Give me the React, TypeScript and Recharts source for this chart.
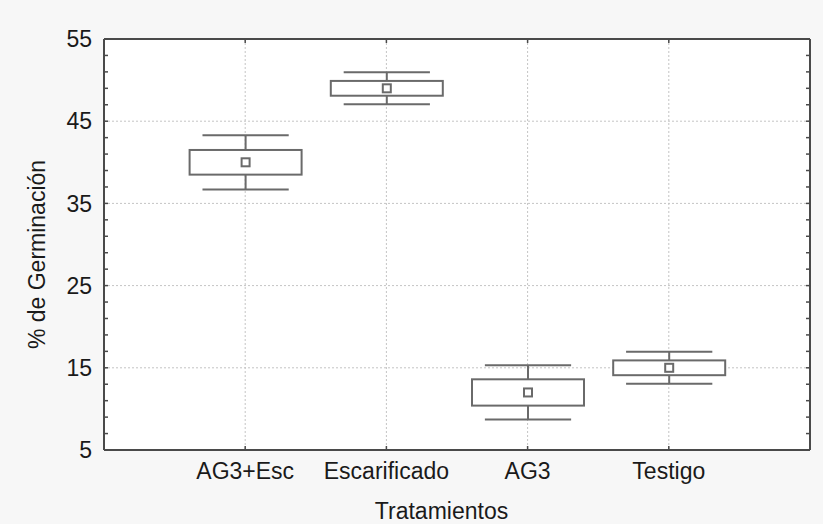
import React from 'react';
import { ComposedChart, Bar, XAxis, YAxis, CartesianGrid } from 'recharts';

// ---- data ----
const categories = ['AG3+Esc', 'Escarificado', 'AG3', 'Testigo'];
const positions = [1, 2, 3, 4];
const means = [40, 49, 12, 15];
const boxLow = [38.5, 48.1, 10.4, 14.1];
const boxHigh = [41.5, 49.9, 13.6, 15.9];
const whiskerLow = [36.7, 47.05, 8.7, 13.05];
const whiskerHigh = [43.3, 50.95, 15.3, 16.95];
const yMajorTicks = [5, 15, 25, 35, 45, 55];
const yMinorTicks = [5, 7, 9, 11, 13, 15, 17, 19, 21, 23, 25, 27, 29, 31, 33, 35, 37, 39, 41, 43, 45, 47, 49, 51, 53, 55];
const xTicks = [1, 2, 3, 4];

const data = categories.map((name, i) => ({
  name,
  x: positions[i],
  mean: means[i],
  boxLow: boxLow[i],
  boxHigh: boxHigh[i],
  whiskerLow: whiskerLow[i],
  whiskerHigh: whiskerHigh[i],
  whisker: [whiskerLow[i], whiskerHigh[i]],
}));

const FONT = '"Liberation Sans", Arial, sans-serif';
const BOX_COLOR = '#6a6a6a';
const FRAME = '#4a4a4a';

const BoxShape = (props: any) => {
  const { x, y, width, height, payload } = props;
  if (x == null || y == null || !payload) return null;
  const top = Math.min(y, y + height);
  const h = Math.abs(height);
  const hi = payload.whiskerHigh;
  const lo = payload.whiskerLow;
  const k = h / (hi - lo);
  const toY = (v: number) => top + (hi - v) * k;
  const cx = x + width / 2;
  const capHalf = width * 0.385;
  const yBoxTop = toY(payload.boxHigh);
  const yBoxBot = toY(payload.boxLow);
  const yMean = toY(payload.mean);
  const sq = 8;
  return (
    <g>
      <line x1={cx} x2={cx} y1={toY(hi)} y2={yBoxTop} stroke={BOX_COLOR} strokeWidth={2} />
      <line x1={cx} x2={cx} y1={yBoxBot} y2={toY(lo)} stroke={BOX_COLOR} strokeWidth={2} />
      <line x1={cx - capHalf} x2={cx + capHalf} y1={toY(hi)} y2={toY(hi)} stroke={BOX_COLOR} strokeWidth={2} />
      <line x1={cx - capHalf} x2={cx + capHalf} y1={toY(lo)} y2={toY(lo)} stroke={BOX_COLOR} strokeWidth={2} />
      <rect x={x} y={yBoxTop} width={width} height={yBoxBot - yBoxTop} fill="#ffffff" stroke={BOX_COLOR} strokeWidth={2} />
      <rect x={cx - sq / 2} y={yMean - sq / 2} width={sq} height={sq} fill="#ffffff" stroke={BOX_COLOR} strokeWidth={2} />
    </g>
  );
};

const tickStyle = { fill: '#1a1a1a', fontSize: 23, fontFamily: FONT };
const NoLabel = () => <g />;

export default function App() {
  return (
    <div style={{ position: 'absolute', left: 0, top: 0, width: 823, height: 524, background: '#f7f7f7' }}>
      <ComposedChart
        width={823}
        height={524}
        data={data}
        margin={{ top: 39, right: 13, left: 0, bottom: 0 }}
      >
        <CartesianGrid
          fill="#ffffff"
          stroke="#c4c4c4"
          strokeDasharray="2 2"
          strokeWidth={1}
        />
        <XAxis
          xAxisId="bm"
          dataKey="x"
          type="number"
          domain={[0, 5]}
          ticks={xTicks}
          interval={0}
          allowDataOverflow
          height={1}
          mirror
          tick={NoLabel}
          tickSize={4}
          tickLine={{ stroke: FRAME, strokeWidth: 1.5 }}
          axisLine={false}
        />
        <XAxis
          dataKey="x"
          type="number"
          domain={[0, 5]}
          ticks={xTicks}
          interval={0}
          allowDataOverflow
          height={74}
          tickLine={false}
          tickSize={0}
          tickMargin={13}
          axisLine={{ stroke: FRAME, strokeWidth: 2 }}
          tick={tickStyle}
          tickFormatter={(v: number) => categories[positions.indexOf(v)] ?? ''}
          label={{
            content: (p: any) => {
              const vb = p.viewBox;
              return (
                <text
                  x={vb.x + vb.width / 2 - 15.5}
                  y={519}
                  textAnchor="middle"
                  fill="#1a1a1a"
                  fontSize={23}
                  fontFamily={FONT}
                >
                  Tratamientos
                </text>
              );
            },
          }}
        />
        <XAxis
          xAxisId="top"
          orientation="top"
          dataKey="x"
          type="number"
          domain={[0, 5]}
          ticks={xTicks}
          interval={0}
          allowDataOverflow
          height={1}
          mirror
          tick={NoLabel}
          tickSize={4}
          tickLine={{ stroke: FRAME, strokeWidth: 1.5 }}
          axisLine={{ stroke: FRAME, strokeWidth: 2 }}
        />
        <YAxis
          yAxisId="lm"
          type="number"
          domain={[5, 55]}
          ticks={yMinorTicks}
          interval={0}
          allowDataOverflow
          width={1}
          mirror
          tick={NoLabel}
          tickSize={4}
          tickLine={{ stroke: FRAME, strokeWidth: 1.5 }}
          axisLine={false}
        />
        <YAxis
          type="number"
          domain={[5, 55]}
          ticks={yMajorTicks}
          interval={0}
          allowDataOverflow
          width={104}
          tickLine={false}
          tickSize={0}
          tickMargin={12}
          axisLine={{ stroke: FRAME, strokeWidth: 2 }}
          tick={tickStyle}
          label={{
            content: (p: any) => {
              const vb = p.viewBox;
              const cx = vb.x + 37;
              const cy = vb.y + vb.height / 2 + 10;
              return (
                <text
                  x={cx}
                  y={cy}
                  transform={`rotate(-90 ${cx} ${cy})`}
                  textAnchor="middle"
                  dominantBaseline="central"
                  fill="#1a1a1a"
                  fontSize={23}
                  fontFamily={FONT}
                >
                  % de Germinación
                </text>
              );
            },
          }}
        />
        <YAxis
          yAxisId="r"
          orientation="right"
          type="number"
          domain={[5, 55]}
          ticks={yMinorTicks}
          interval={0}
          allowDataOverflow
          width={1}
          mirror
          tick={NoLabel}
          tickSize={4}
          tickLine={{ stroke: FRAME, strokeWidth: 1.5 }}
          axisLine={{ stroke: FRAME, strokeWidth: 2 }}
        />
        <Bar
          dataKey="whisker"
          barSize={112}
          isAnimationActive={false}
          shape={BoxShape}
        />
      </ComposedChart>
    </div>
  );
}
